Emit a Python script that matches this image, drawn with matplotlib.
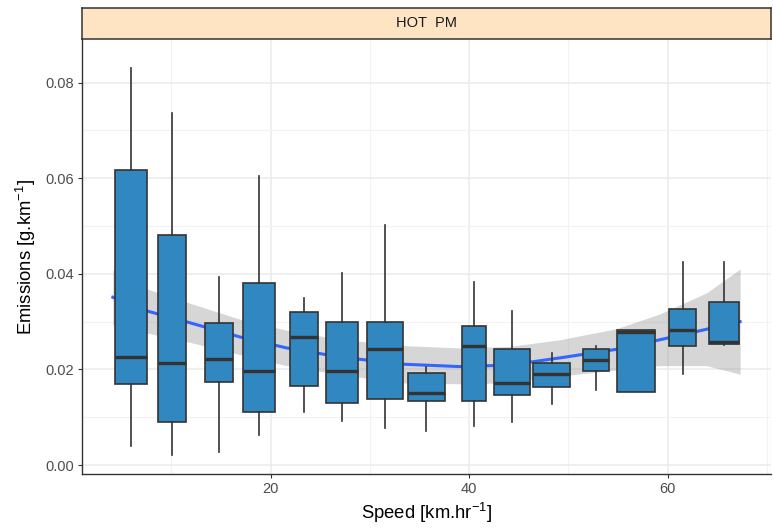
import matplotlib
matplotlib.use("Agg")
import matplotlib.pyplot as plt
from matplotlib.ticker import MultipleLocator

plt.rcParams["font.family"] = ["Liberation Sans", "DejaVu Sans"]
plt.rcParams["mathtext.fontset"] = "custom"
plt.rcParams["mathtext.rm"] = "Liberation Sans"
plt.rcParams["mathtext.it"] = "Liberation Sans:italic"

# box statistics per speed bin
speed_mid = [5.9, 10.1, 14.8, 18.8, 23.4, 27.2, 31.5, 35.7, 40.5, 44.3, 48.3, 52.8, 56.8, 61.5, 65.7]
box_widths = [3.2, 2.8, 2.9, 3.2, 2.8, 3.2, 3.6, 3.75, 2.45, 3.6, 3.7, 2.6, 3.75, 2.8, 3.05]
whisk_lo = [0.0040, 0.0021, 0.0028, 0.0063, 0.0110, 0.0092, 0.0078, 0.0072, 0.0082, 0.0091, 0.0128, 0.0156, 0.0152, 0.0191, 0.0252]
q1 = [0.0169, 0.0091, 0.0173, 0.0110, 0.0166, 0.0129, 0.0138, 0.0133, 0.0135, 0.0147, 0.0164, 0.0196, 0.0152, 0.0250, 0.0254]
med = [0.0226, 0.0213, 0.0222, 0.0196, 0.0268, 0.0196, 0.0242, 0.0150, 0.0248, 0.0171, 0.0191, 0.0219, 0.0279, 0.0282, 0.0257]
q3 = [0.0617, 0.0482, 0.0298, 0.0381, 0.0321, 0.0299, 0.0300, 0.0192, 0.0291, 0.0243, 0.0213, 0.0243, 0.0282, 0.0327, 0.0342]
whisk_hi = [0.0830, 0.0737, 0.0393, 0.0604, 0.0349, 0.0402, 0.0503, 0.0206, 0.0382, 0.0322, 0.0234, 0.0248, 0.0282, 0.0425, 0.0425]

# smoother and its confidence band
smooth_x = [4.1, 7.6, 11.8, 16.9, 21.6, 27.0, 33.3, 39.0, 44.0, 49.1, 54.8, 59.2, 63.9, 67.3]
smooth_fit = [0.0351, 0.0322, 0.0298, 0.0268, 0.0245, 0.0226, 0.0211, 0.0206, 0.0209, 0.0224, 0.0242, 0.0262, 0.0284, 0.0300]
smooth_hi = [0.0409, 0.0368, 0.0339, 0.0305, 0.0282, 0.0263, 0.0250, 0.0245, 0.0248, 0.0262, 0.0285, 0.0316, 0.0360, 0.0410]
smooth_lo = [0.0293, 0.0276, 0.0257, 0.0231, 0.0208, 0.0189, 0.0172, 0.0170, 0.0172, 0.0186, 0.0199, 0.0208, 0.0208, 0.0190]

fig = plt.figure(figsize=(7.74, 5.28), dpi=100)
ax = fig.add_axes([0.106, 0.102, 0.890, 0.824])

ax.set_xlim(1.0, 70.4)
ax.set_ylim(-0.0019, 0.0891)
ax.xaxis.set_major_locator(MultipleLocator(20))
ax.xaxis.set_minor_locator(MultipleLocator(10))
ax.yaxis.set_major_locator(MultipleLocator(0.02))
ax.yaxis.set_minor_locator(MultipleLocator(0.01))
ax.yaxis.set_major_formatter(matplotlib.ticker.FormatStrFormatter("%.2f"))
ax.grid(which="major", color="#ebebeb", lw=1.1, zorder=0)
ax.grid(which="minor", color="#f2f2f2", lw=0.8, zorder=0)
ax.set_axisbelow(True)

# band + fitted line go under the boxes
ax.fill_between(smooth_x, smooth_lo, smooth_hi, color="#999999", alpha=0.4, lw=0, zorder=1)
ax.plot(smooth_x, smooth_fit, color="#3366ff", lw=2.2, zorder=2)

stats = []
for i in range(len(speed_mid)):
    stats.append({"whislo": whisk_lo[i], "q1": q1[i], "med": med[i],
                  "q3": q3[i], "whishi": whisk_hi[i], "fliers": []})
ax.bxp(stats, positions=speed_mid, widths=box_widths, showcaps=False,
       showfliers=False, patch_artist=True, manage_ticks=False,
       boxprops=dict(facecolor="#3187bf", edgecolor="#333333", lw=1.2),
       medianprops=dict(color="#333333", lw=2.4, solid_capstyle="butt"),
       whiskerprops=dict(color="#333333", lw=1.2),
       zorder=3)

for side in ["top", "right"]:
    ax.spines[side].set_visible(False)
ax.spines["left"].set_color("#333333")
ax.spines["bottom"].set_color("#333333")
ax.spines["left"].set_linewidth(1.0)
ax.spines["bottom"].set_linewidth(1.0)
ax.axvline(70.4, color="#bbbbbb", lw=0.8, zorder=0)

ax.tick_params(which="major", length=3, width=0.8, color="#333333",
               labelcolor="#4d4d4d", labelsize=10.5, pad=3)
ax.tick_params(which="minor", length=0)

ax.set_xlabel(r"Speed [km.hr$^{-1}$]", fontsize=13.3, labelpad=3)
ax.set_ylabel(r"Emissions [g.km$^{-1}$]", fontsize=13.3, labelpad=5)

# facet strip
strip = fig.add_axes([0.106, 0.926, 0.890, 0.059])
strip.set_facecolor("#ffe4c4")
strip.set_xticks([])
strip.set_yticks([])
for s in strip.spines.values():
    s.set_color("#333333")
    s.set_linewidth(1.1)
strip.text(0.5, 0.5, "HOT  PM", ha="center", va="center", fontsize=10.5, color="#1a1a1a",
           transform=strip.transAxes)

fig.savefig("out.png", dpi=100)
